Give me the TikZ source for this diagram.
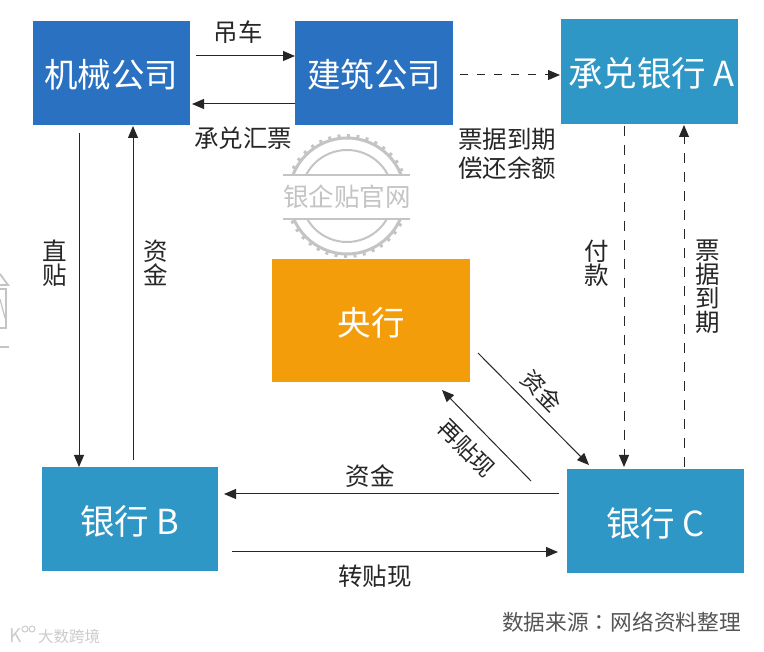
\documentclass[tikz,border=0pt]{standalone}
\usepackage{fontspec}
\setmainfont{Noto Sans CJK SC}
\newfontfamily\tcfont{Noto Sans CJK TC}
\usetikzlibrary{arrows.meta}
\definecolor{bluedark}{HTML}{2B71C1}
\definecolor{bluelight}{HTML}{2F97C6}
\definecolor{orangebox}{HTML}{F49D0A}
\definecolor{wm}{HTML}{C4C4C4}
\definecolor{srcgray}{HTML}{555555}
\tikzset{
  box/.style={anchor=center,inner sep=0pt,outer sep=0pt,text=white,font=\fontsize{33.5}{33.5}\selectfont},
  bigbox/.style={box,font=\fontsize{34.5}{34.5}\selectfont},
  lbl/.style={text=black!85,inner sep=0pt,font=\fontsize{24.5}{26}\selectfont,align=center},
  rlbl/.style={text=black!85,inner sep=0pt,font=\fontsize{23}{23}\selectfont},
  conn/.style={draw=black!85,line width=1pt,-{Triangle[length=12pt,width=10pt]}},
  dconnh/.style={conn,dash pattern=on 8pt off 9pt},
  dconnv/.style={conn,dash pattern=on 10pt off 9pt},
}
\newcommand{\boxat}[8][box]{% style, name, x1,y1,x2,y2, colour, text
  \fill[#7] (#3,#4) rectangle (#5,#6);
  \node[#1,minimum width={#5pt-#3pt},minimum height={#6pt-#4pt}] (#2) at ({(#3+#5)/2},{(#4+#6)/2+2}) {#8};
}
\begin{document}
\begin{tikzpicture}[x=1pt,y=-1pt]
\useasboundingbox (0,0) rectangle (764,652);
\fill[white] (0,0) rectangle (764,652);
% watermark
\begin{scope}
  \clip (270,125) rectangle (425,175);
  \draw[wm,line width=3pt] (347,196) circle[radius=58];
  \draw[wm,line width=3pt,dash pattern=on 3pt off 6.5pt] (347,196) circle[radius=60.5];
  \draw[wm,line width=2pt] (347,196) circle[radius=46];
\end{scope}
\begin{scope}
  \clip (270,219) rectangle (425,265);
  \draw[wm,line width=3pt] (347,196) circle[radius=58];
  \draw[wm,line width=3pt,dash pattern=on 3pt off 6.5pt] (347,196) circle[radius=60.5];
  \draw[wm,line width=2pt] (347,196) circle[radius=46];
\end{scope}
\coordinate (wmla) at (283,175); \coordinate (wmlb) at (410,175);
\coordinate (wmlc) at (283,219); \coordinate (wmld) at (410,219);
\draw[wm,line width=2pt] (wmla) -- (wmlb);
\draw[wm,line width=2pt] (wmlc) -- (wmld);
\node[text=wm,inner sep=0pt,font=\fontsize{25.5}{25.5}\selectfont] (wmtext) at (347,197) {银企贴官网};
% cropped watermark at the left edge
\draw[wm,line width=1.8pt] (0,274) -- (8,285) -- (0,285);
\draw[wm,line width=1.8pt] (0,289) -- (6,289) -- (6,328) -- (0,328);
\draw[wm,line width=1.2pt] (0,299) -- (5,318);
\draw[wm,line width=1.8pt] (0,347) -- (9,347);
% boxes
\boxat{jixie}{33}{21}{190}{125}{bluedark}{机械公司}
\boxat{jianzhu}{295}{21}{453}{125}{bluedark}{建筑公司}
\boxat[bigbox]{bankA}{561}{19}{742}{124}{bluelight}{承兑银行 A}
\fill[white] (738,19) rectangle (742,124);
\boxat{yang}{272}{259}{470}{382}{orangebox}{央行}
\boxat[bigbox]{bankB}{42}{467}{218}{571}{bluelight}{银行 B}
\boxat[bigbox]{bankC}{567}{469}{744}{573}{bluelight}{银行 C}
% free connector ends
\coordinate (a1) at (196,56);  \coordinate (a2) at (295,56);
\coordinate (b1) at (295,104); \coordinate (b2) at (192,104);
\coordinate (c1) at (460,75);  \coordinate (c2) at (560,75);
\coordinate (d1) at (79,133);  \coordinate (d2) at (79,467);
\coordinate (e1) at (133,460); \coordinate (e2) at (133,126);
\coordinate (f1) at (624,126); \coordinate (f2) at (624,467);
\coordinate (g1) at (684,467); \coordinate (g2) at (684,125);
\coordinate (h1) at (559,494); \coordinate (h2) at (224,494);
\coordinate (i1) at (232,552); \coordinate (i2) at (558,552);
\coordinate (j1) at (478,353); \coordinate (j2) at (589,465);
\coordinate (k1) at (531,481); \coordinate (k2) at (442,390);
\draw[conn] (a1) -- (a2);
\draw[conn] (b1) -- (b2);
\draw[dconnh] (c1) -- (c2);
\draw[conn] (d1) -- (d2);
\draw[conn] (e1) -- (e2);
\draw[dconnv] (f1) -- (f2);
\draw[dconnv] (g1) -- (g2);
\draw[conn] (h1) -- (h2);
\draw[conn] (i1) -- (i2);
\draw[conn] (j1) -- (j2);
\draw[conn] (k1) -- (k2);
% labels
\node[lbl] (l1) at (238,32) {吊车};
\node[lbl] (l2) at (243,138) {承兑汇票};
\node[lbl] (l3) at (507,139) {票据到期};
\node[lbl] (l3b) at (507,168) {偿还余额};
\node[lbl] (l4) at (55,263) {直\\[-2pt]贴};
\node[lbl] (l5) at (156,263) {资\\[-2pt]金};
\node[lbl] (l6) at (597,263) {付\\[-2pt]款};
\node[lbl] (l7) at (708,287) {票\\[-2pt]据\\[-2pt]到\\[-2pt]期};
\node[lbl] (l8) at (370,476) {资金};
\node[lbl] (l9) at (375,576) {转贴现};
\node[rlbl,rotate=-45] (l10) at (542,391) {资金};
\node[rlbl,rotate=-45] (l11) at (467,448) {再贴现};
\node[anchor=east,text=srcgray,inner sep=0pt,font=\fontsize{21.7}{22}\selectfont] (src) at (741,622) {数据来源{\tcfont ：}网络资料整理};
% bottom-left watermark
\node[text=black!20,inner sep=0pt,font=\fontsize{15.5}{15.5}\selectfont] (wmb) at (69,637) {大数跨境};
\node[text=black!20,inner sep=0pt,font=\fontsize{19}{19}\selectfont] (wmk) at (16,636) {K};
\draw[black!20,line width=1pt] (25,629) circle[radius=3];
\draw[black!20,line width=1pt] (32,629) circle[radius=3];
\end{tikzpicture}
\end{document}
